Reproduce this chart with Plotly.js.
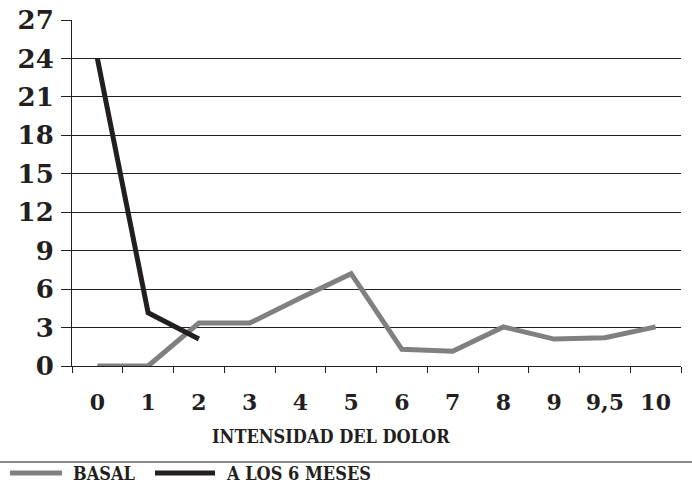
<!DOCTYPE html>
<html>
<head>
<meta charset="utf-8">
<script src="https://cdn.plot.ly/plotly-3.0.1.min.js"></script>
<style>html,body{margin:0;padding:0;background:#fff}#chart{width:692px;height:484px}</style>
</head>
<body>
<div id="chart"></div>
<script>
const categories = ["0","1","2","3","4","5","6","7","8","9","9,5","10"];
const basal = [0, 0, 3.35, 3.35, 5.3, 7.2, 1.3, 1.15, 3.05, 2.1, 2.2, 3.05];
const seisMeses = [24, 4.15, 2.1];
const yTicks = [0,3,6,9,12,15,18,21,24,27];
const xTitle = "INTENSIDAD DEL DOLOR";
const seriesNames = ["BASAL", "A LOS 6 MESES"];
const seriesColors = ["#808080", "#231f20"];
const seriesWidths = [5, 5];

const xTickFont = {family: "DejaVu Serif", size: 22, color: "#231f20", weight: "bold"};
const yTickFont = {family: "DejaVu Serif", size: 26, color: "#231f20", weight: "bold"};
const condFont = {family: "DejaVu Serif Condensed, DejaVu Serif", size: 18, color: "#231f20", weight: "bold"};

const traces = [
  {x: categories, y: basal, name: seriesNames[0], type: "scatter", mode: "lines",
   line: {color: seriesColors[0], width: seriesWidths[0]}, showlegend: false},
  {x: categories.slice(0, seisMeses.length), y: seisMeses, name: seriesNames[1], type: "scatter", mode: "lines",
   line: {color: seriesColors[1], width: seriesWidths[1]}, showlegend: false}
];

// plot area: left 72, width 609, top 20, height 346
const PW = 609, PH = 346, PL = 72, PB = 366;
const px = v => (v - PL) / PW;
const py = v => (PB - v) / PH;

// manual legend (samples + labels)
const legendItems = [
  {x0: 10, x1: 62, tx: 71},
  {x0: 155, x1: 215, tx: 224}
];
const shapes = [
  {type: "line", xref: "paper", yref: "paper", x0: px(0), x1: px(692),
   y0: py(462), y1: py(462), line: {color: "#8a8a8a", width: 2}}
];
const annotations = [
  {text: xTitle, xref: "paper", yref: "paper", x: px(331), y: py(436),
   xanchor: "center", yanchor: "middle", showarrow: false, font: condFont}
];
legendItems.forEach((it, i) => {
  shapes.push({type: "line", xref: "paper", yref: "paper", x0: px(it.x0), x1: px(it.x1),
    y0: py(473), y1: py(473), line: {color: seriesColors[i], width: seriesWidths[i]}});
  annotations.push({text: seriesNames[i], xref: "paper", yref: "paper", x: px(it.tx), y: py(473),
    xanchor: "left", yanchor: "middle", showarrow: false, font: condFont});
});

const layout = {
  width: 692, height: 484,
  margin: {l: 72, r: 11, t: 20, b: 118, autoexpand: false},
  paper_bgcolor: "#fff", plot_bgcolor: "#fff",
  showlegend: false,
  xaxis: {type: "category", categoryorder: "array", categoryarray: categories,
          range: [-0.5, categories.length - 0.5],
          tickson: "boundaries", ticks: "outside", ticklen: 6, tickcolor: "#231f20", tickwidth: 1,
          showline: true, linecolor: "#231f20", linewidth: 1,
          showgrid: false, zeroline: false, automargin: false, tickangle: 0,
          tickfont: xTickFont, ticklabelstandoff: 17, fixedrange: true},
  yaxis: {range: [0, 27], tickvals: yTicks, ticktext: yTicks.map(String),
          ticks: "outside", ticklen: 10, tickcolor: "#231f20", tickwidth: 1,
          showline: true, linecolor: "#231f20", linewidth: 1,
          showgrid: true, gridcolor: "#231f20", gridwidth: 1, zeroline: false, automargin: false,
          tickfont: yTickFont, ticklabelstandoff: 2, fixedrange: true},
  annotations: annotations,
  shapes: shapes
};

Plotly.newPlot("chart", traces, layout, {displayModeBar: false, staticPlot: true});
</script>
</body>
</html>
